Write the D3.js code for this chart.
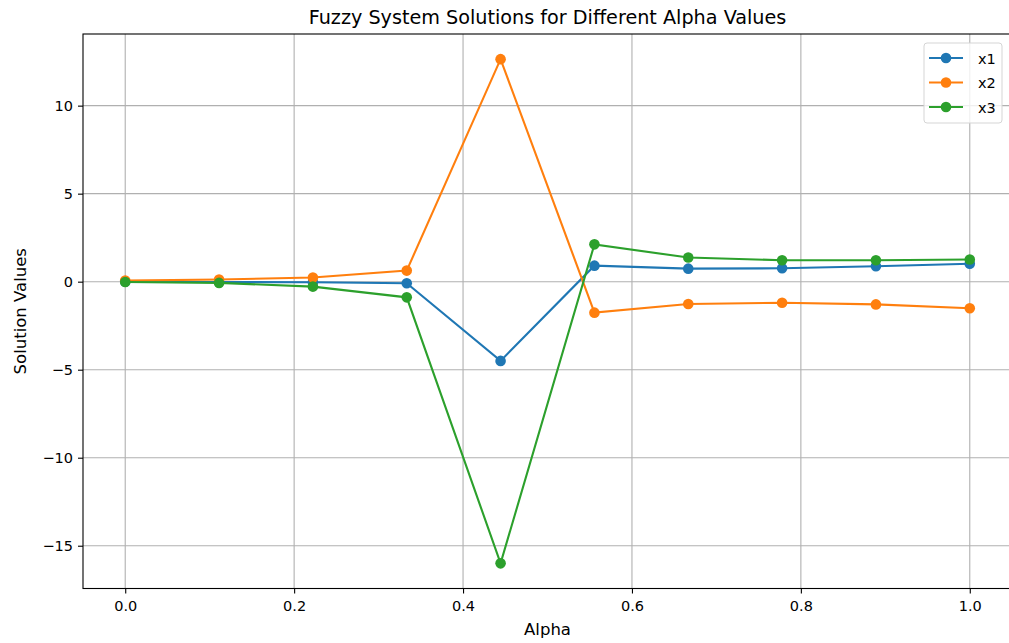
<!DOCTYPE html>
<html>
<head>
<meta charset="utf-8">
<script src="https://cdn.jsdelivr.net/npm/d3@7"></script>
<style>
  body { margin: 0; background: #fff; }
  text { font-family: "DejaVu Sans", sans-serif; fill: #000; }
</style>
</head>
<body>
<div id="chart"></div>
<script>
var alphas = [0, 1/9, 2/9, 3/9, 4/9, 5/9, 6/9, 7/9, 8/9, 1];
var x1 = [0.0, -0.02, -0.03, -0.09, -4.5, 0.91, 0.74, 0.76, 0.88, 1.02];
var x2 = [0.06, 0.12, 0.24, 0.63, 12.64, -1.76, -1.27, -1.2, -1.29, -1.51];
var x3 = [-0.02, -0.07, -0.28, -0.89, -16.0, 2.12, 1.37, 1.22, 1.22, 1.26];
var seriesNames = ["x1", "x2", "x3"];
var colors = ["#1f77b4", "#ff7f0e", "#2ca02c"];
var xTicks = [0, 0.2, 0.4, 0.6, 0.8, 1.0];
var yTicks = [-15, -10, -5, 0, 5, 10];

function drawChart(width, height) {
  var left = 83, right = 1012, top = 34, bottom = 588.5;
  var svg = d3.select("#chart").append("svg")
      .attr("width", width)
      .attr("height", height);

  var x = d3.scaleLinear().domain([-0.05, 1.05]).range([left, right]);
  var y = d3.scaleLinear().domain([-17.43, 14.07]).range([bottom, top]);

  // grid
  svg.append("g").selectAll("line").data(xTicks).enter().append("line")
      .attr("x1", d => x(d)).attr("x2", d => x(d))
      .attr("y1", top).attr("y2", bottom)
      .attr("stroke", "#b0b0b0").attr("stroke-width", 1.1);
  svg.append("g").selectAll("line").data(yTicks).enter().append("line")
      .attr("x1", left).attr("x2", right)
      .attr("y1", d => y(d)).attr("y2", d => y(d))
      .attr("stroke", "#b0b0b0").attr("stroke-width", 1.1);

  var xAxis = d3.axisBottom(x).tickValues(xTicks).tickSize(5).tickPadding(7)
      .tickFormat(d3.format(".1f"));
  var yAxis = d3.axisLeft(y).tickValues(yTicks).tickSize(5).tickPadding(5)
      .tickFormat(d => d < 0 ? "\u2212" + Math.abs(d) : d);

  var gx = svg.append("g").attr("transform", "translate(0," + bottom + ")").call(xAxis);
  var gy = svg.append("g").attr("transform", "translate(" + left + ",0)").call(yAxis);
  [gx, gy].forEach(function(g) {
    g.select(".domain").remove();
    g.selectAll("text").style("font-size", "14.5px").attr("fill", "#000");
    g.selectAll("line").attr("stroke", "#000").attr("stroke-width", 1.1);
  });

  // frame
  svg.append("rect")
      .attr("x", left).attr("y", top)
      .attr("width", right - left).attr("height", bottom - top)
      .attr("fill", "none").attr("stroke", "#000").attr("stroke-width", 1.1);

  var data = [x1, x2, x3];
  var line = d3.line().x((d, i) => x(alphas[i])).y(d => y(d));

  data.forEach(function(vals, k) {
    var g = svg.append("g");
    g.append("path")
        .datum(vals)
        .attr("d", line)
        .attr("fill", "none")
        .attr("stroke", colors[k])
        .attr("stroke-width", 2.1);
    g.selectAll("circle").data(vals).enter().append("circle")
        .attr("cx", (d, i) => x(alphas[i]))
        .attr("cy", d => y(d))
        .attr("r", 5.3)
        .attr("fill", colors[k]);
  });

  // legend
  var lg = svg.append("g");
  lg.append("rect")
      .attr("x", 924).attr("y", 43).attr("width", 78).attr("height", 80)
      .attr("rx", 3).attr("fill", "#fff").attr("fill-opacity", 0.8)
      .attr("stroke", "#d5d5d5").attr("stroke-width", 1);
  seriesNames.forEach(function(name, k) {
    var ly = 58 + k * 24.5;
    lg.append("line")
        .attr("x1", 929).attr("x2", 963).attr("y1", ly).attr("y2", ly)
        .attr("stroke", colors[k]).attr("stroke-width", 2.1);
    lg.append("circle").attr("cx", 946).attr("cy", ly).attr("r", 5.3).attr("fill", colors[k]);
    lg.append("text").attr("x", 978).attr("y", ly + 5.5)
        .style("font-size", "14.5px").text(name);
  });

  svg.append("text")
      .attr("x", (left + right) / 2).attr("y", 24)
      .attr("text-anchor", "middle")
      .style("font-size", "19.2px")
      .text("Fuzzy System Solutions for Different Alpha Values");

  svg.append("text")
      .attr("x", (left + right) / 2).attr("y", 635)
      .attr("text-anchor", "middle")
      .style("font-size", "16.5px")
      .text("Alpha");

  svg.append("text")
      .attr("transform", "translate(26," + ((top + bottom) / 2) + ") rotate(-90)")
      .attr("text-anchor", "middle")
      .style("font-size", "16.5px")
      .text("Solution Values");

  return svg;
}

drawChart(1009, 643);
</script>
</body>
</html>
